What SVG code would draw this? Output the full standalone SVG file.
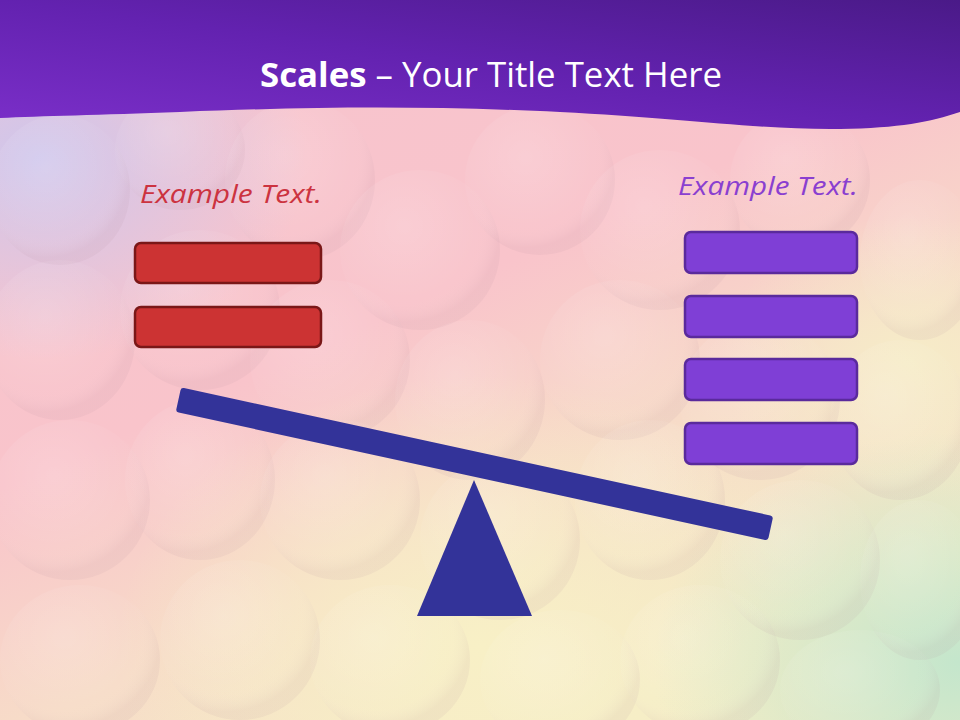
<svg xmlns="http://www.w3.org/2000/svg" width="960" height="720" viewBox="0 0 960 720">
<defs>
<linearGradient id="bg" x1="0" y1="0" x2="0.6" y2="1">
<stop offset="0" stop-color="#f6c4cf"/>
<stop offset="0.5" stop-color="#f9c4cb"/>
<stop offset="0.75" stop-color="#f7dcc8"/>
<stop offset="1" stop-color="#f4ecc6"/>
</linearGradient>
<radialGradient id="lav" cx="0.04" cy="0.22" r="0.28">
<stop offset="0" stop-color="#cfc6ec"/>
<stop offset="1" stop-color="#cfc6ec" stop-opacity="0"/>
</radialGradient>
<radialGradient id="grn" cx="1" cy="0.92" r="0.32">
<stop offset="0" stop-color="#c4e6cc"/>
<stop offset="1" stop-color="#c4e6cc" stop-opacity="0"/>
</radialGradient>
<radialGradient id="yel" cx="0.5" cy="0.9" r="0.38">
<stop offset="0" stop-color="#f8f0c6"/>
<stop offset="1" stop-color="#f8f0c6" stop-opacity="0"/>
</radialGradient>
<radialGradient id="yel2" cx="0.95" cy="0.5" r="0.2">
<stop offset="0" stop-color="#f6ecc8"/>
<stop offset="1" stop-color="#f6ecc8" stop-opacity="0"/>
</radialGradient>
<radialGradient id="ball" cx="0.4" cy="0.35" r="0.6">
<stop offset="0" stop-color="#ffffff" stop-opacity="0.16"/>
<stop offset="0.8" stop-color="#ffffff" stop-opacity="0.03"/>
<stop offset="1" stop-color="#b08a9a" stop-opacity="0.10"/>
</radialGradient>
<linearGradient id="hdr" x1="0" y1="1" x2="1" y2="0">
<stop offset="0" stop-color="#7b2fc9"/>
<stop offset="0.5" stop-color="#6322b0"/>
<stop offset="1" stop-color="#4a1a88"/>
</linearGradient>
<style>
.red{fill:#cc3333;stroke:#7a1717;stroke-width:2.5}
.pur{fill:#7f3fd6;stroke:#5a2a9c;stroke-width:2.5}
.lbl{font-family:"Open Sans","Liberation Sans",sans-serif;font-style:italic;font-size:25px}
</style>
</defs>
<g id="background">
<rect width="960" height="720" fill="url(#bg)"/>
<rect width="960" height="720" fill="url(#yel)"/>
<rect width="960" height="720" fill="url(#yel2)"/>
<rect width="960" height="720" fill="url(#grn)"/>
<rect width="960" height="720" fill="url(#lav)"/>
<g fill="url(#ball)">
<ellipse cx="60" cy="190" rx="70" ry="75"/>
<ellipse cx="180" cy="150" rx="65" ry="60"/>
<ellipse cx="300" cy="180" rx="75" ry="80"/>
<ellipse cx="420" cy="250" rx="80" ry="80"/>
<ellipse cx="540" cy="180" rx="75" ry="75"/>
<ellipse cx="660" cy="230" rx="80" ry="80"/>
<ellipse cx="800" cy="180" rx="70" ry="70"/>
<ellipse cx="920" cy="260" rx="60" ry="80"/>
<ellipse cx="60" cy="340" rx="75" ry="80"/>
<ellipse cx="200" cy="310" rx="80" ry="80"/>
<ellipse cx="330" cy="360" rx="80" ry="80"/>
<ellipse cx="470" cy="400" rx="75" ry="80"/>
<ellipse cx="620" cy="360" rx="80" ry="80"/>
<ellipse cx="760" cy="400" rx="80" ry="80"/>
<ellipse cx="900" cy="420" rx="70" ry="80"/>
<ellipse cx="70" cy="500" rx="80" ry="80"/>
<ellipse cx="200" cy="480" rx="75" ry="80"/>
<ellipse cx="340" cy="500" rx="80" ry="80"/>
<ellipse cx="500" cy="540" rx="80" ry="80"/>
<ellipse cx="650" cy="500" rx="75" ry="80"/>
<ellipse cx="800" cy="560" rx="80" ry="80"/>
<ellipse cx="920" cy="580" rx="60" ry="80"/>
<ellipse cx="80" cy="660" rx="80" ry="75"/>
<ellipse cx="240" cy="640" rx="80" ry="80"/>
<ellipse cx="390" cy="660" rx="80" ry="75"/>
<ellipse cx="560" cy="680" rx="80" ry="70"/>
<ellipse cx="700" cy="660" rx="80" ry="75"/>
<ellipse cx="860" cy="690" rx="80" ry="60"/>
</g>
</g>
<g id="header">
<path d="M0 0 H960 V112 C930 122 900 128 840 129 C760 130 680 118 560 112 C430 106 330 106 180 112 C100 115 40 116 0 118 Z" fill="url(#hdr)"/>
<text x="491" y="87" text-anchor="middle" font-family="'Open Sans','Liberation Sans',sans-serif" font-size="34" fill="#ffffff" textLength="462" lengthAdjust="spacingAndGlyphs"><tspan font-weight="bold">Scales</tspan> – Your Title Text Here</text>
</g>
<g id="left-label"><text class="lbl" x="231" y="203" text-anchor="middle" fill="#cc3340" textLength="182" lengthAdjust="spacingAndGlyphs">Example Text.</text></g>
<g id="right-label"><text class="lbl" x="768" y="195" text-anchor="middle" fill="#8a3fd0" textLength="180" lengthAdjust="spacingAndGlyphs">Example Text.</text></g>
<g id="left-box-1"><rect class="red" x="135" y="243" width="186" height="40" rx="6"/></g>
<g id="left-box-2"><rect class="red" x="135" y="307" width="186" height="40" rx="6"/></g>
<g id="right-box-1"><rect class="pur" x="685" y="232" width="172" height="41" rx="6"/></g>
<g id="right-box-2"><rect class="pur" x="685" y="296" width="172" height="41" rx="6"/></g>
<g id="right-box-3"><rect class="pur" x="685" y="359" width="172" height="41" rx="6"/></g>
<g id="right-box-4"><rect class="pur" x="685" y="423" width="172" height="41" rx="6"/></g>
<g id="fulcrum"><polygon points="474,480 417,616 532,616" fill="#333399"/></g>
<g id="beam"><rect x="-303" y="-12.5" width="606" height="25" rx="3" fill="#333399" transform="translate(474.5,464) rotate(12.26)"/></g>
</svg>
